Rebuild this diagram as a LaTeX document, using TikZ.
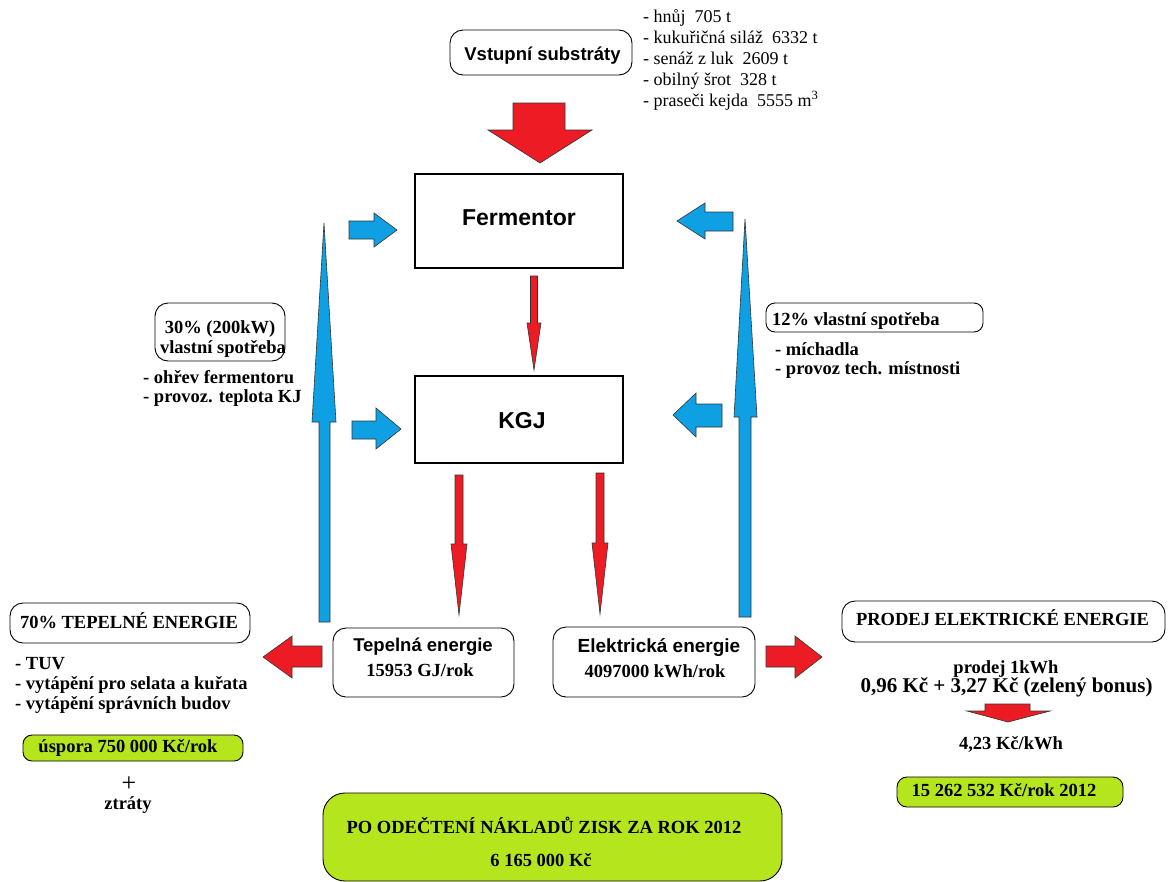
\documentclass[tikz,border=0pt]{standalone}
\usepackage{fontspec}
\setmainfont{Liberation Serif}
\newfontfamily\arialf{Liberation Sans}
\definecolor{pred}{HTML}{ED1C24}
\definecolor{pblue}{HTML}{0FA0E4}
\definecolor{pgreen}{HTML}{B5E61D}
\newcommand\fsz[1]{\fontsize{#1}{#1}\selectfont}
\begin{document}
\begin{tikzpicture}[x=1pt,y=-1pt,
 rbox/.style={draw=black, line width=0.9pt, rounded corners=13pt, inner sep=0pt},
 gbox/.style={rbox, fill=pgreen},
 sqbox/.style={draw=black, line width=2.6pt, inner sep=0pt},
 redar/.style={fill=pred, draw=black!80, line width=0.6pt},
 bluear/.style={fill=pblue, draw=black!80, line width=0.6pt},
 bt/.style={anchor=base, inner sep=0pt, font=\bfseries\fsz{18.5}},
 lt/.style={anchor=base west, inner sep=0pt, font=\bfseries\fsz{18.5}},
 rt/.style={anchor=base west, inner sep=0pt, font=\fsz{18}},
 st/.style={anchor=base, inner sep=0pt, font=\arialf\bfseries\fsz{18.5}},
 ]
\fill[white] (0,0) rectangle (1172,881);
\useasboundingbox (0,0) rectangle (1172,881);

% ---------- boxes ----------
\node[rbox, minimum width=182pt, minimum height=45pt] (vstup) at (541,52.5) {};
\node[sqbox, minimum width=208pt, minimum height=94pt] (ferm) at (519,221) {};
\node[sqbox, minimum width=208pt, minimum height=87pt] (kgj) at (519,419.5) {};
\node[rbox, minimum width=130pt, minimum height=58pt] (b30) at (220,332) {};
\node[rbox, minimum width=217pt, minimum height=29pt, rounded corners=9pt] (b12) at (874.5,317.5) {};
\node[rbox, minimum width=240pt, minimum height=40pt] (b70) at (130,623) {};
\node[gbox, minimum width=220pt, minimum height=26pt, rounded corners=9pt] (uspora) at (133,748) {};
\node[rbox, minimum width=181pt, minimum height=69pt] (tep) at (423.5,662.5) {};
\node[rbox, minimum width=202pt, minimum height=70pt] (ele) at (654,662) {};
\node[rbox, minimum width=323pt, minimum height=41pt] (prodej) at (1003.5,621.5) {};
\node[gbox, minimum width=226pt, minimum height=30pt, rounded corners=10pt] (zisk12) at (1010,792) {};
\node[gbox, minimum width=459pt, minimum height=88pt, rounded corners=22pt] (big) at (552.5,837) {};

% ---------- texts ----------
\node[st] (tvstup) at (542.5,60) {Vstupní substráty};
\node[st, font=\arialf\bfseries\fsz{23}] (tferm) at (519,225) {Fermentor};
\node[st, font=\arialf\bfseries\fsz{23}] (tkgj) at (522,428) {KGJ};

\node[rt] (l1) at (643,22) {- hnůj\ \ 705 t};
\node[rt] (l2) at (643,43) {- kukuřičná siláž\ \ 6332 t};
\node[rt] (l3) at (643,64) {- senáž z luk\ \ 2609 t};
\node[rt] (l4) at (643,85) {- obilný šrot\ \ 328 t};
\node[rt] (l5) at (643,106) {- praseči kejda\ \ 5555 m\textsuperscript{3}};

\node[bt] (t30a) at (220,333) {30\% (200kW)};
\node[bt] (t30b) at (223,353) {vlastní spotřeba};
\node[lt] (t30c) at (143,383) {- ohřev fermentoru};
\node[lt] (t30d) at (143,402) {- provoz. teplota KJ};

\node[lt] (t12a) at (772,325) {12\% vlastní spotřeba};
\node[lt] (t12b) at (775,355) {- míchadla};
\node[lt] (t12c) at (775,374) {- provoz tech. místnosti};

\node[bt] (t70) at (129,628) {70\% TEPELNÉ ENERGIE};
\node[lt] (t70a) at (15,669) {- TUV};
\node[lt] (t70b) at (15,689) {- vytápění pro selata a kuřata};
\node[lt] (t70c) at (15,709) {- vytápění správních budov};
\node[bt] (tusp) at (128,752) {úspora 750 000 Kč/rok};
\node[bt, font=\fsz{26}] (tplus) at (129,791) {+};
\node[bt] (tztr) at (128,809) {ztráty};

\node[st] (ttepa) at (423,651) {Tepelná energie};
\node[bt] (ttepb) at (420,676) {15953 GJ/rok};
\node[st, font=\arialf\bfseries\fsz{19}] (telea) at (659,652) {Elektrická energie};
\node[bt] (teleb) at (655,677) {4097000 kWh/rok};

\node[bt] (tprod) at (1002.5,625) {PRODEJ ELEKTRICKÉ ENERGIE};
\node[bt] (tpr1) at (1006,673) {prodej 1kWh};
\node[bt, font=\bfseries\fsz{21}] (tpr2) at (1006.5,692) {0,96 Kč + 3,27 Kč (zelený bonus)};
\node[bt] (tpr3) at (1011,749) {4,23 Kč/kWh};
\node[bt] (tpr4) at (1004,796) {15 262 532 Kč/rok 2012};

\node[bt] (tbig1) at (544,833) {PO ODEČTENÍ NÁKLADŮ ZISK ZA ROK 2012};
\node[bt] (tbig2) at (541,866) {6 165 000 Kč};

% ---------- red arrows ----------
\draw[redar] (513,103)--(565,103)--(565,130)--(592,130)--(540,163)--(488,130)--(513,130)--cycle;
\draw[redar] (530.5,276)--(537.5,276)--(537.5,323)--(541,323)--(534,370)--(527,323)--(530.5,323)--cycle;
\draw[redar] (455,475)--(463,475)--(463,544)--(467,544)--(459,615)--(451,544)--(455,544)--cycle;
\draw[redar] (596,473)--(604,473)--(604,543)--(608,543)--(600,614)--(592,543)--(596,543)--cycle;
\draw[redar] (322,646)--(292,646)--(292,636)--(263,657)--(292,678)--(292,667)--(322,667)--cycle;
\draw[redar] (766,646)--(795,646)--(795,636)--(822,657)--(795,678)--(795,667)--(766,667)--cycle;
\draw[redar] (985,704)--(1030,704)--(1030,711)--(1050,711)--(1008,722)--(967,711)--(985,711)--cycle;

% ---------- blue arrows ----------
\draw[bluear] (319,622)--(330,622)--(330,422)--(336,422)--(324,223)--(312,422)--(319,422)--cycle;
\draw[bluear] (739,617)--(751,617)--(751,417)--(757,417)--(745,219)--(734,417)--(739,417)--cycle;
\draw[bluear] (349,221)--(374,221)--(374,213)--(397,230)--(374,247)--(374,239)--(349,239)--cycle;
\draw[bluear] (352,421)--(376,421)--(376,408)--(401,429)--(376,449)--(376,439)--(352,439)--cycle;
\draw[bluear] (733,212)--(705,212)--(705,203)--(677,221)--(705,239)--(705,231)--(733,231)--cycle;
\draw[bluear] (722,404)--(696,404)--(696,393)--(673,415)--(696,437)--(696,427)--(722,427)--cycle;
\end{tikzpicture}
\end{document}
